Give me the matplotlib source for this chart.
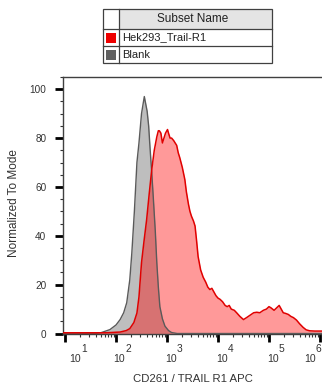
import numpy as np
import matplotlib
matplotlib.use('Agg')
import matplotlib.pyplot as plt
from matplotlib.patches import Rectangle
from matplotlib.ticker import LogLocator, MultipleLocator, FixedLocator, NullFormatter

plt.rcParams['font.family'] = ['Liberation Sans', 'DejaVu Sans']

# Blank histogram (log10 of APC intensity, % of mode)
blank_logx = [0.9, 1.6, 1.7, 1.88, 2.0, 2.08, 2.15, 2.21, 2.27, 2.31, 2.36, 2.41, 2.45,
              2.50, 2.555, 2.61, 2.64, 2.667, 2.70, 2.73, 2.77, 2.80, 2.83, 2.86, 2.91,
              2.96, 3.03, 3.09, 3.2, 6.1]
blank_y = [0, 0, 0.3, 1.6, 3.5, 5.7, 8.5, 12.6, 22, 33, 50, 70, 78,
           90, 97, 91, 85, 76, 66, 56, 42, 29, 19, 11, 6,
           3, 1.2, 0.4, 0, 0]

# Hek293_Trail-R1 histogram
trail_logx = [0.9, 1.8, 2.08, 2.2, 2.27, 2.35, 2.41, 2.45, 2.50, 2.55, 2.60, 2.65, 2.70,
              2.75, 2.80, 2.83, 2.85, 2.88, 2.91, 2.94, 2.97, 3.01, 3.03, 3.06, 3.09,
              3.13, 3.19, 3.22, 3.25, 3.30, 3.35, 3.38, 3.42, 3.45, 3.48, 3.52, 3.55,
              3.58, 3.61, 3.66, 3.71, 3.76, 3.80, 3.84, 3.88, 3.92, 3.96, 4.00, 4.04,
              4.09, 4.14, 4.18, 4.22, 4.26, 4.32, 4.37, 4.43, 4.50, 4.56, 4.63, 4.70,
              4.76, 4.82, 4.89, 4.95, 5.00, 5.04, 5.10, 5.15, 5.20, 5.24, 5.28, 5.33,
              5.38, 5.43, 5.48, 5.54, 5.60, 5.67, 5.73, 5.80, 5.90, 6.1]
trail_y = [0.3, 0.3, 0.6, 1.2, 2, 4.5, 8.4, 15, 29, 38, 46.5, 57, 67,
           75, 80.5, 83, 83, 82, 78, 80, 82, 83.5, 82, 80, 80,
           79, 77, 74, 72, 68, 63, 58, 53, 50, 48, 46, 44,
           38, 31.5, 26, 23, 21, 19, 18, 18.5, 17, 15.5, 14.5, 14,
           13, 11.5, 11, 11.5, 10, 9.5, 8.4, 7, 5.7, 6.5, 7.5, 8.5,
           8.7, 8.5, 9.5, 10, 11, 10.5, 9.5, 10.5, 11.5, 10, 8.5, 8.2,
           7.8, 7, 6.5, 5.5, 4, 2.5, 1.5, 1.1, 1.0, 1.0]

decades = [1, 2, 3, 4, 5, 6]
decade_label_left = [69, 113, 165, 216, 267, 304]  # left edge of each "10^k" label, px

subsets = ['Hek293_Trail-R1', 'Blank']
subset_colors = ['#ee0000', '#606060']

W, H = 322, 385
fig = plt.figure(figsize=(W / 100, H / 100), dpi=100)
ax = fig.add_axes([63 / W, 1 - 334 / H, (W - 63) / W, (334 - 77) / H])

bx = np.power(10.0, blank_logx)
tx = np.power(10.0, trail_logx)
ax.fill_between(bx, blank_y, color='#bebebe', lw=0, zorder=1)
ax.fill_between(tx, trail_y, color='#ff0000', alpha=0.4, lw=0, zorder=2)
ax.plot(bx, blank_y, color='#5a5a5a', lw=1, zorder=3)
ax.plot(tx, trail_y, color='#e00000', lw=1.1, zorder=4)

ax.set_xscale('log')
ax.set_xlim(10 ** 0.96, 10 ** 6.04)
ax.set_ylim(-0.2, 105)
ax.xaxis.set_major_locator(FixedLocator([10.0 ** k for k in decades]))
ax.xaxis.set_minor_locator(LogLocator(base=10, subs=np.arange(2, 10), numticks=20))
ax.xaxis.set_major_formatter(NullFormatter())
ax.xaxis.set_minor_formatter(NullFormatter())
ax.yaxis.set_major_locator(MultipleLocator(20))
ax.yaxis.set_minor_locator(MultipleLocator(5))

for s in ['top', 'left', 'bottom']:
    ax.spines[s].set_color('#404040')
    ax.spines[s].set_linewidth(1)
ax.spines['right'].set_visible(False)
ax.tick_params(which='major', length=6, width=2, color='black', labelsize=7.2,
               labelcolor='#333333', pad=6)
ax.tick_params(which='minor', length=2.5, width=0.8, color='#333333')

# decade labels: "10" with a full-size raised exponent, as in the FlowJo export
for k, xl in zip(decades, decade_label_left):
    fig.text(xl / W, 1 - 359 / H, '10', ha='left', va='center', fontsize=7.6,
             color='#333333')
    fig.text((xl + 12) / W, 1 - 349.5 / H, str(k), ha='left', va='center',
             fontsize=7.4, color='#333333')

fig.text(193 / W, 1 - 379 / H, 'CD261 / TRAIL R1 APC', ha='center', va='center',
         fontsize=8.2, color='#333333')
fig.text(14 / W, 1 - 203 / H, 'Normalized To Mode', ha='center', va='center',
         rotation=90, fontsize=8.5, color='#333333')

# subset legend table at the top
def px_rect(x0, y0, x1, y1, **kw):
    fig.add_artist(Rectangle((x0 / W, 1 - y1 / H), (x1 - x0) / W, (y1 - y0) / H,
                             transform=fig.transFigure, **kw))

px_rect(119, 9, 272, 29, facecolor='#e4e4e4', edgecolor='none')
px_rect(103, 9, 272, 63, facecolor='none', edgecolor='#404040', lw=0.9)
for yl in [29, 46]:
    fig.add_artist(plt.Line2D([103 / W, 272 / W], [1 - yl / H, 1 - yl / H],
                              transform=fig.transFigure, color='#404040', lw=0.9))
fig.add_artist(plt.Line2D([119 / W, 119 / W], [1 - 9 / H, 1 - 63 / H],
                          transform=fig.transFigure, color='#404040', lw=0.9))
fig.text(193 / W, 1 - 19 / H, 'Subset Name', ha='center', va='center',
         fontsize=8.5, color='#222222')
for i, (name, c) in enumerate(zip(subsets, subset_colors)):
    yc = 37.5 + 17 * i
    px_rect(106, yc - 5, 116, yc + 5, facecolor=c, edgecolor='none')
    fig.text(122 / W, 1 - yc / H, name, ha='left', va='center',
             fontsize=8, color='#222222')

fig.savefig('out.png', dpi=100)
